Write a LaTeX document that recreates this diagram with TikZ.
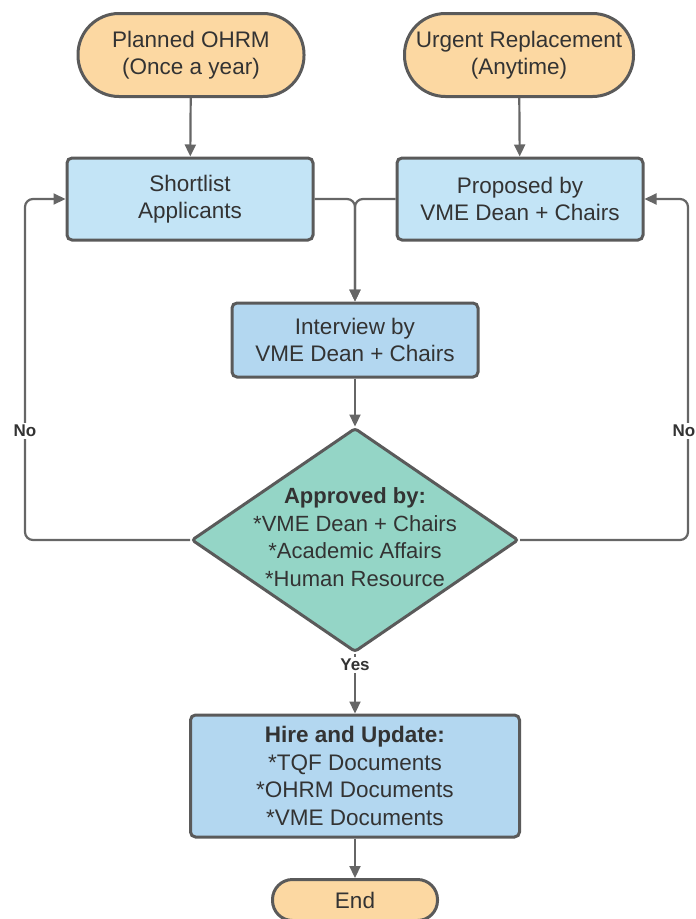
\documentclass[tikz,border=0pt]{standalone}
\usepackage{fontspec}
\setmainfont{Liberation Sans}
\usetikzlibrary{shapes.geometric,arrows.meta}
\definecolor{bord}{HTML}{5A5A5A}
\definecolor{conncol}{HTML}{666666}
\definecolor{txt}{HTML}{333333}
\definecolor{orangefill}{HTML}{FCD8A2}
\definecolor{bluefillA}{HTML}{C3E4F6}
\definecolor{bluefillB}{HTML}{B3D7F0}
\definecolor{tealfill}{HTML}{94D5C6}
\tikzset{
  base/.style={draw=bord, line width=3pt, text=txt, align=center, inner sep=0pt,
    font=\fontsize{22.5}{27.5}\selectfont},
  term/.style={base, fill=orangefill, rounded corners=41pt},
  proc/.style={base, fill=bluefillA, rounded corners=5pt, minimum width=246pt, minimum height=82pt},
  procB/.style={base, fill=bluefillB, rounded corners=5pt},
  decis/.style={diamond, draw=bord, line width=3pt, fill=tealfill, inner sep=0pt, rounded corners=3pt},
  conn/.style={draw=conncol, line width=2.2pt, -{Triangle[length=12pt,width=11pt]}},
  lbl/.style={fill=white, text=txt, inner sep=2pt, font=\fontsize{17}{19}\selectfont\bfseries}
}
\begin{document}
\begin{tikzpicture}[x=1pt,y=-1pt]
\useasboundingbox (0,0) rectangle (696,919);
\node[term, minimum width=226pt, minimum height=83pt] (po) at (191,55) {Planned OHRM\\(Once a year)};
\node[term, minimum width=229pt, minimum height=83pt] (ur) at (519,55) {Urgent Replacement\\(Anytime)};
\node[proc] (sl) at (190,199) {Shortlist\\Applicants};
\node[proc] (pr) at (520,199) {Proposed by\\VME Dean + Chairs};
\node[procB, minimum width=246pt, minimum height=74pt] (iv) at (355,340) {Interview by\\VME Dean + Chairs};
\node[decis, minimum width=327pt, minimum height=224pt] (dc) at (355,540) {};
\node[text=txt, align=center, font=\fontsize{22}{27.5}\selectfont] (dt) at (355,537) {\textbf{Approved by:}\\*VME Dean + Chairs\\*Academic Affairs\\*Human Resource};
\node[procB, minimum width=329pt, minimum height=122pt] (hu) at (355,776) {\textbf{Hire and Update:}\\*TQF Documents\\*OHRM Documents\\*VME Documents};
\node[term, rounded corners=20pt, minimum width=165pt, minimum height=41pt] (en) at (355,900) {End};

\coordinate (lbot) at (25,540);
\coordinate (ltop) at (25,199);
\coordinate (rbot) at (688,540);
\coordinate (rtop) at (688,199);

\draw[conn] (po) -- (sl);
\draw[conn] (ur) -- (pr);
\draw[conn, rounded corners=8pt] (sl.east) -| (iv.north);
\draw[conn, rounded corners=8pt] (pr.west) -| (iv.north);
\draw[conn] (iv) -- (dc.north);
\draw[conn, rounded corners=8pt] (dc.west) -- (lbot) -- (ltop) -- (sl.west);
\draw[conn, rounded corners=8pt] (dc.east) -- (rbot) -- (rtop) -- (pr.east);
\draw[conn] (dc.south) -- (hu.north);
\draw[conn] (hu) -- (en);
\node[lbl] (no1) at (25,431) {No};
\node[lbl] (no2) at (684,431) {No};
\node[lbl] (yes) at (355,665) {Yes};
\end{tikzpicture}
\end{document}
